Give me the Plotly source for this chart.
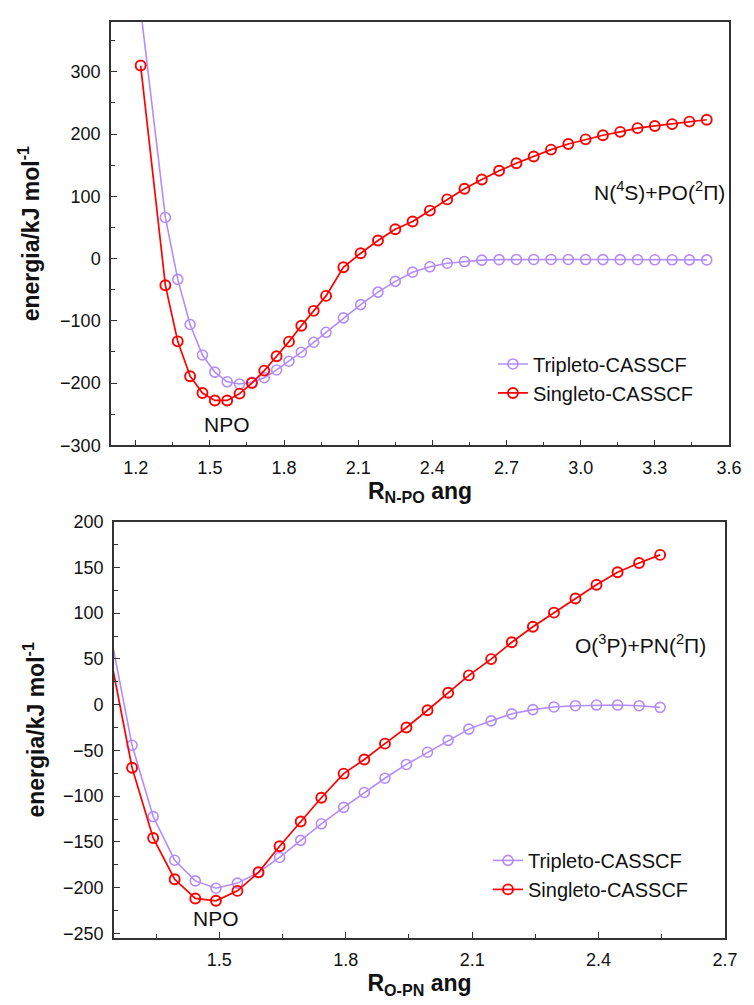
import plotly.graph_objects as go

# ---------- data: top panel (N + PO) ----------
x_top = [1.22, 1.32, 1.37, 1.42, 1.47, 1.52, 1.57, 1.62, 1.67, 1.72, 1.77, 1.82,
         1.87, 1.92, 1.97, 2.04, 2.11, 2.18, 2.25, 2.32, 2.39, 2.46, 2.53, 2.60,
         2.67, 2.74, 2.81, 2.88, 2.95, 3.02, 3.09, 3.16, 3.23, 3.30, 3.37, 3.44, 3.51]
top_triplet = [400, 66, -33.5, -106, -155, -182.5, -198, -201.5, -199, -191.5, -179, -165,
               -150.5, -134.5, -118.5, -95.3, -74, -54, -36.7, -21.9, -13.3, -7.5, -4.8, -2.5,
               -1.8, -1.5, -1.5, -1.5, -1.5, -1.6, -1.7, -1.8, -1.9, -2.0, -2.0, -2.1, -2.2]
top_singlet = [310, -43, -133, -189, -216, -228, -228, -217, -200, -180, -157, -133.5,
               -108, -84, -60, -14, 8.5, 29, 47, 59.5, 77, 95, 112, 127,
               141, 153, 164, 175, 184, 191.5, 198, 203.5, 209.5, 213, 216, 220, 223]

# ---------- data: bottom panel (O + PN) ----------
x_bot = [1.23, 1.293, 1.343, 1.394, 1.443, 1.492, 1.543, 1.593, 1.643, 1.693, 1.742,
         1.795, 1.844, 1.893, 1.944, 1.994, 2.043, 2.092, 2.145, 2.194, 2.244, 2.294,
         2.345, 2.395, 2.445, 2.496, 2.546]
bot_triplet = [105, -44.4, -122.3, -170, -192.6, -200.6, -195, -183.2, -167, -148.3, -130.2,
               -112.2, -96, -80.4, -65.3, -52, -39, -26.7, -17.7, -10, -5.4, -2.5,
               -1.1, -0.4, -0.4, -1.1, -2.9]
bot_singlet = [80, -69, -145.7, -190.8, -211.8, -214.3, -203.5, -183.2, -154.8, -127.7, -101.7,
               -75.4, -59.9, -42.6, -24.9, -6.1, 13, 32, 49.8, 68.2, 85.2, 100.6,
               116.1, 131, 144.7, 154.8, 163.7]

series_names = ["Tripleto-CASSCF", "Singleto-CASSCF"]
top_x_ticks = [1.2, 1.5, 1.8, 2.1, 2.4, 2.7, 3.0, 3.3, 3.6]
bot_x_ticks = [1.5, 1.8, 2.1, 2.4, 2.7]

PURPLE = "#B48CFA"
RED = "#FF0000"
FONT = "Liberation Sans, Arial, sans-serif"
FRAME = "#333333"

fig = go.Figure()


def add_pair(x, trip, sing, xa, ya, legend):
    fig.add_trace(go.Scatter(
        x=x, y=trip, name=series_names[0], mode="lines+markers",
        xaxis=xa, yaxis=ya, legend=legend,
        line=dict(color=PURPLE, width=1.6),
        marker=dict(symbol="circle-open", size=10, color=PURPLE, line=dict(width=1.6, color=PURPLE)),
    ))
    fig.add_trace(go.Scatter(
        x=x, y=sing, name=series_names[1], mode="lines+markers",
        xaxis=xa, yaxis=ya, legend=legend,
        line=dict(color=RED, width=1.7),
        marker=dict(symbol="circle-open", size=10, color=RED, line=dict(width=1.9, color=RED)),
    ))


add_pair(x_top, top_triplet, top_singlet, "x", "y", "legend")
add_pair(x_bot, bot_triplet, bot_singlet, "x2", "y2", "legend2")

tickfont = dict(family=FONT, size=18, color="#111111")
titlefont = dict(family=FONT, size=23, color="#111111")

common_axis = dict(
    showline=True, linecolor=FRAME, linewidth=1.5, mirror=True,
    ticks="inside", ticklen=6, tickcolor=FRAME, tickwidth=1.3,
    showgrid=False, zeroline=False, tickfont=tickfont, ticklabelstandoff=5,
)

fig.update_layout(
    width=754, height=1005,
    margin=dict(l=111, r=20, t=14, b=67),
    paper_bgcolor="white", plot_bgcolor="white",
    font=dict(family=FONT, color="#111111"),
    xaxis=dict(domain=[0, 1], anchor="y", range=[1.1, 3.6],
               tickvals=top_x_ticks, ticktext=[f"{v:.1f}" for v in top_x_ticks],
               minor=dict(dtick=0.15, tick0=1.2, ticks="inside", ticklen=4, tickcolor=FRAME),
               title=dict(text="<b>R<sub>N-PO</sub> ang</b>", font=titlefont, standoff=2),
               **common_axis),
    yaxis=dict(domain=[0.5379, 1], anchor="x", range=[-300, 380], dtick=100, tick0=0,
               minor=dict(dtick=50, ticks="inside", ticklen=4, tickcolor=FRAME),
               title=dict(text="<b>energia/kJ mol<sup>-1</sup></b>", font=titlefont, standoff=14),
               **common_axis),
    xaxis2=dict(domain=[0.0048, 0.9936], anchor="y2", range=[1.25, 2.7],
                tickvals=bot_x_ticks, ticktext=[f"{v:.1f}" for v in bot_x_ticks],
                minor=dict(dtick=0.15, tick0=1.35, ticks="inside", ticklen=4, tickcolor=FRAME),
                title=dict(text="<b>R<sub>O-PN</sub> ang</b>", font=titlefont, standoff=2),
                **common_axis),
    yaxis2=dict(domain=[0, 0.4545], anchor="x2", range=[-255, 200], dtick=50, tick0=0,
                minor=dict(dtick=25, ticks="inside", ticklen=4, tickcolor=FRAME),
                title=dict(text="<b>energia/kJ mol<sup>-1</sup></b>", font=titlefont, standoff=12),
                **common_axis),
    legend=dict(x=0.618, y=0.648, xanchor="left", yanchor="top", tracegroupgap=0,
                bgcolor="rgba(0,0,0,0)", font=dict(family=FONT, size=20, color="#111111")),
    legend2=dict(x=0.61, y=0.106, xanchor="left", yanchor="top", tracegroupgap=0,
                 bgcolor="rgba(0,0,0,0)", font=dict(family=FONT, size=20, color="#111111")),
    showlegend=True,
)

annot_font = dict(family=FONT, size=21, color="#111111")
fig.add_annotation(x=3.32, y=108, xref="x", yref="y", showarrow=False,
                   text="N(<sup>4</sup>S)+PO(<sup>2</sup>Π)", font=annot_font)
fig.add_annotation(x=1.57, y=-266, xref="x", yref="y", showarrow=False,
                   text="NPO", font=annot_font)
fig.add_annotation(x=2.50, y=66, xref="x2", yref="y2", showarrow=False,
                   text="O(<sup>3</sup>P)+PN(<sup>2</sup>Π)", font=annot_font)
fig.add_annotation(x=1.492, y=-234, xref="x2", yref="y2", showarrow=False,
                   text="NPO", font=annot_font)

fig.write_html("out.html",
               config={"displayModeBar": False},
               post_script="document.body.style.margin='0';document.body.style.overflow='hidden';")
